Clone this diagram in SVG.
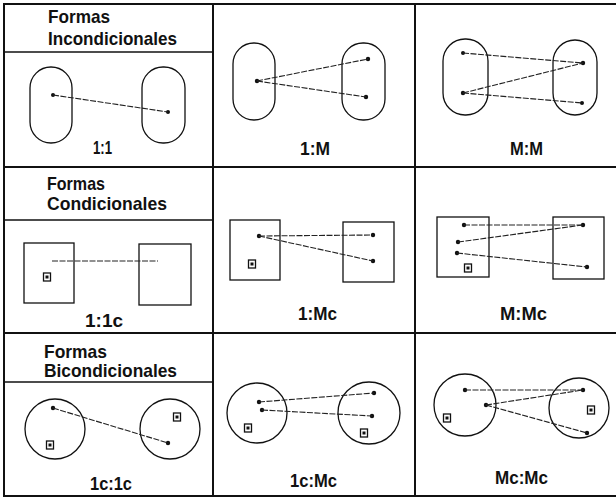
<svg xmlns="http://www.w3.org/2000/svg" width="616" height="499" viewBox="0 0 616 499">
<defs>
<style>
.grid{stroke:#111;stroke-width:2;fill:none}
.sub{stroke:#111;stroke-width:1.5;fill:none}
.shape{stroke:#111;stroke-width:1.3;fill:none}
.con{stroke:#222;stroke-width:1.1;fill:none;stroke-dasharray:6 1.5}
.dot{fill:#111}
.hd{font-family:"Liberation Sans",Arial,sans-serif;font-weight:bold;font-size:19px;fill:#111}
.lb{font-family:"Liberation Sans",Arial,sans-serif;font-weight:bold;font-size:18px;fill:#111}
</style>
<g id="cond">
<rect x="-3.5" y="-4" width="7" height="8" fill="none" stroke="#111" stroke-width="1.3"/>
<rect x="-1.5" y="-1.5" width="3" height="3" fill="#111"/>
</g>
</defs>
<rect width="616" height="499" fill="#fff"/>

<g id="grid">
<line class="grid" x1="4" y1="4" x2="616" y2="4"/>
<line class="grid" x1="4" y1="496" x2="616" y2="496"/>
<line class="grid" x1="4" y1="3" x2="4" y2="497"/>
<line class="grid" x1="213" y1="3" x2="213" y2="497"/>
<line class="grid" x1="415" y1="3" x2="415" y2="497"/>
<line class="grid" x1="4" y1="167" x2="616" y2="167"/>
<line class="grid" x1="4" y1="333" x2="616" y2="333"/>
<line class="sub" x1="4" y1="52" x2="213" y2="52"/>
<line class="sub" x1="4" y1="220" x2="213" y2="220"/>
<line class="sub" x1="4" y1="382" x2="213" y2="382"/>
</g>

<g id="headers">
<text class="hd" x="48" y="23" textLength="62" lengthAdjust="spacingAndGlyphs">Formas</text>
<text class="hd" x="48" y="45" textLength="129" lengthAdjust="spacingAndGlyphs">Incondicionales</text>
<text class="hd" x="47" y="190" textLength="58" lengthAdjust="spacingAndGlyphs">Formas</text>
<text class="hd" x="47" y="210" textLength="120" lengthAdjust="spacingAndGlyphs">Condicionales</text>
<text class="hd" x="44" y="358" textLength="63" lengthAdjust="spacingAndGlyphs">Formas</text>
<text class="hd" x="44" y="377" textLength="133" lengthAdjust="spacingAndGlyphs">Bicondicionales</text>
</g>

<g id="n11">
<rect class="shape" x="30" y="67" width="42" height="76" rx="21" ry="21"/>
<rect class="shape" x="142" y="67" width="43" height="76" rx="21" ry="21"/>
<circle class="dot" cx="53" cy="95" r="2"/>
<circle class="dot" cx="168" cy="112" r="2"/>
<text class="lb" x="93" y="154" textLength="19" lengthAdjust="spacingAndGlyphs">1:1</text>
</g>

<g id="n1M">
<rect class="shape" x="233" y="43" width="42" height="77" rx="21" ry="21"/>
<rect class="shape" x="342" y="43" width="43" height="77" rx="21" ry="21"/>
<circle class="dot" cx="257" cy="81" r="2.2"/>
<circle class="dot" cx="368" cy="59" r="2.2"/>
<circle class="dot" cx="366" cy="97" r="2.2"/>
<text class="lb" x="300" y="155" textLength="30" lengthAdjust="spacingAndGlyphs">1:M</text>
</g>

<g id="nMM">
<rect class="shape" x="443" y="39" width="45" height="76" rx="22" ry="22"/>
<rect class="shape" x="553" y="40" width="44" height="75" rx="22" ry="22"/>
<circle class="dot" cx="463" cy="53" r="2"/>
<circle class="dot" cx="463" cy="93" r="2.2"/>
<circle class="dot" cx="583" cy="63" r="2.2"/>
<circle class="dot" cx="582" cy="103" r="2"/>
<text class="lb" x="510" y="155" textLength="33" lengthAdjust="spacingAndGlyphs">M:M</text>
</g>

<g id="n11c">
<rect class="shape" x="24" y="243" width="50" height="60"/>
<rect class="shape" x="139" y="244" width="52" height="61"/>
<use href="#cond" x="47" y="277"/>
<text class="lb" x="85" y="327" textLength="38" lengthAdjust="spacingAndGlyphs">1:1c</text>
</g>

<g id="n1Mc">
<rect class="shape" x="230" y="220" width="50" height="60"/>
<rect class="shape" x="343" y="222" width="51" height="60"/>
<circle class="dot" cx="259" cy="236" r="2.2"/>
<circle class="dot" cx="373" cy="235" r="2.2"/>
<circle class="dot" cx="373" cy="261" r="2.2"/>
<use href="#cond" x="252" y="264"/>
<text class="lb" x="298" y="320" textLength="39" lengthAdjust="spacingAndGlyphs">1:Mc</text>
</g>

<g id="nMMc">
<rect class="shape" x="437" y="217" width="52" height="60"/>
<rect class="shape" x="553" y="217" width="51" height="62"/>
<circle class="dot" cx="464" cy="225" r="2.2"/>
<circle class="dot" cx="458" cy="242" r="2.2"/>
<circle class="dot" cx="457" cy="253" r="2.2"/>
<circle class="dot" cx="583" cy="225" r="2.2"/>
<circle class="dot" cx="587" cy="267" r="2.2"/>
<use href="#cond" x="468" y="268"/>
<text class="lb" x="500" y="320" textLength="47" lengthAdjust="spacingAndGlyphs">M:Mc</text>
</g>

<g id="n1c1c">
<circle class="shape" cx="55" cy="429" r="30"/>
<circle class="shape" cx="170" cy="429" r="30"/>
<circle class="dot" cx="53" cy="408" r="2.2"/>
<circle class="dot" cx="168" cy="443" r="2.2"/>
<use href="#cond" x="50" y="445"/>
<use href="#cond" x="177" y="417"/>
<text class="lb" x="90" y="490" textLength="42" lengthAdjust="spacingAndGlyphs">1c:1c</text>
</g>

<g id="n1cMc">
<circle class="shape" cx="257" cy="413" r="30"/>
<circle class="shape" cx="369" cy="413" r="31"/>
<circle class="dot" cx="259" cy="402" r="2.2"/>
<circle class="dot" cx="262" cy="410" r="2.2"/>
<circle class="dot" cx="374" cy="393" r="2.2"/>
<circle class="dot" cx="372" cy="416" r="2.2"/>
<use href="#cond" x="248" y="428"/>
<use href="#cond" x="364" y="433"/>
<text class="lb" x="290" y="487" textLength="47" lengthAdjust="spacingAndGlyphs">1c:Mc</text>
</g>

<g id="nMcMc">
<circle class="shape" cx="465" cy="405" r="31"/>
<circle class="shape" cx="579" cy="408" r="30"/>
<circle class="dot" cx="465" cy="390" r="2.2"/>
<circle class="dot" cx="486" cy="405" r="2.2"/>
<circle class="dot" cx="583" cy="390" r="2.2"/>
<circle class="dot" cx="587" cy="433" r="2.2"/>
<use href="#cond" x="447" y="418"/>
<use href="#cond" x="591" y="410"/>
<text class="lb" x="495" y="484" textLength="53" lengthAdjust="spacingAndGlyphs">Mc:Mc</text>
</g>

<g id="connectors">
<line class="con" x1="53" y1="95" x2="168" y2="112"/>
<line class="con" x1="257" y1="81" x2="368" y2="59"/>
<line class="con" x1="257" y1="81" x2="366" y2="97"/>
<line class="con" x1="463" y1="53" x2="583" y2="63"/>
<line class="con" x1="463" y1="93" x2="583" y2="63"/>
<line class="con" x1="463" y1="93" x2="582" y2="103"/>
<line class="con" x1="52" y1="261" x2="158" y2="261"/>
<line class="con" x1="259" y1="236" x2="373" y2="235"/>
<line class="con" x1="259" y1="236" x2="373" y2="261"/>
<line class="con" x1="464" y1="225" x2="583" y2="225"/>
<line class="con" x1="458" y1="242" x2="583" y2="225"/>
<line class="con" x1="457" y1="253" x2="587" y2="267"/>
<line class="con" x1="53" y1="408" x2="168" y2="443"/>
<line class="con" x1="259" y1="402" x2="374" y2="393"/>
<line class="con" x1="262" y1="410" x2="372" y2="416"/>
<line class="con" x1="465" y1="390" x2="583" y2="390"/>
<line class="con" x1="486" y1="405" x2="583" y2="390"/>
<line class="con" x1="486" y1="405" x2="587" y2="433"/>
</g>
</svg>
